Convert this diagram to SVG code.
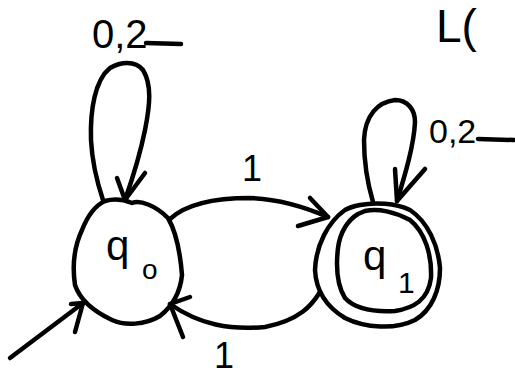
<svg xmlns="http://www.w3.org/2000/svg" width="515" height="376" viewBox="0 0 515 376">
<style>
.s{fill:none;stroke:#000;stroke-width:4.5;stroke-linecap:round;stroke-linejoin:round}
.t{font-family:"Liberation Sans",Arial,sans-serif;fill:#000}
</style>
<rect width="515" height="376" fill="#fff"/>
<g id="connectors">
  <path class="s" d="M103,200 C98,185 92,160 91,140 C90,110 95,80 110,68 C120,62 135,60 143,70 C152,85 150,105 145,130 C140,155 132,180 125,200"/>
  <path class="s" d="M117,178 L125,200 L145,173"/>
  <path class="s" d="M170,219 C185,205 210,198 250,198 C280,199 305,207 328,217"/>
  <path class="s" d="M310,198 L328,217 L298,226"/>
  <path class="s" d="M320,292 C312,305 300,320 265,327 C230,330 200,325 170,304"/>
  <path class="s" d="M190,297 L170,304 L183,337"/>
  <path class="s" d="M10,358 L83,303"/>
  <path class="s" d="M71,304 L83,303 L75,332"/>
  <path class="s" d="M373,202 C368,185 364,165 364,140 C365,115 378,102 395,100 C408,100 415,110 415,122 C414,145 405,175 397,201"/>
  <path class="s" d="M395,169 L397,201 L425,169"/>
</g>
<g id="q0">
  <path class="s" d="M105,201 C115,198 125,200 132,203 C140,200 155,205 168,218 C175,230 180,250 182,275 C180,295 170,308 160,316 C145,325 125,326 112,320 C95,312 80,300 75,285 C72,265 75,245 82,230 C88,215 96,205 105,201 Z"/>
  <text class="t" x="106" y="260" font-size="42">q</text>
  <text class="t" x="142" y="279" font-size="28">o</text>
</g>
<g id="q1">
  <path class="s" d="M360,205 C375,202 395,203 410,210 C428,222 438,245 440,268 C440,290 432,310 415,320 C395,330 365,328 345,318 C325,306 316,290 315,270 C316,245 328,222 345,210 C350,207 355,206 360,205 Z"/>
  <path class="s" d="M365,211 C378,208 395,212 410,220 C425,232 432,255 431,278 C428,300 414,308 395,311 C375,312 355,309 345,298 C337,285 336,265 338,248 C340,232 348,220 358,214 Z"/>
  <text class="t" x="363" y="270" font-size="42">q</text>
  <text class="t" x="398" y="293" font-size="30">1</text>
</g>
<g id="labels">
  <text class="t" x="92" y="48" font-size="40">0,2</text>
  <path class="s" d="M146,43 L181,44"/>
  <text class="t" x="242" y="181" font-size="36">1</text>
  <text class="t" x="214" y="368" font-size="36">1</text>
  <text class="t" x="429" y="143" font-size="34">0,2</text>
  <path class="s" d="M478,139 L514,140"/>
  <text class="t" x="436" y="42" font-size="46">L(</text>
</g>
</svg>
